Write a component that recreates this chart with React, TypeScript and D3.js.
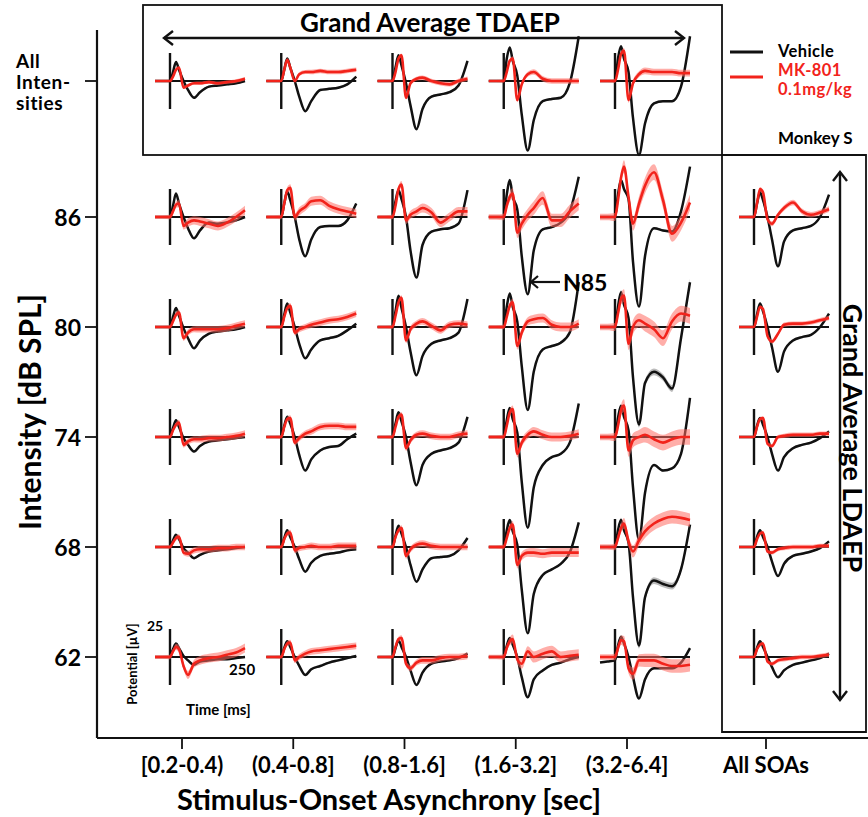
import * as d3 from "d3";

// sample times (ms) for every trace
const T = [-50, -25, 0, 10, 20, 30, 45, 60, 80, 100, 130, 160, 190, 220, 250];
// relative spread of the SEM band over time
const semProfile = [0.4, 0.4, 0.5, 0.6, 0.7, 0.8, 0.8, 0.9, 0.9, 1, 1, 1, 1, 1, 1];

const soaLabels = ["[0.2-0.4)", "(0.4-0.8]", "(0.8-1.6]", "(1.6-3.2]", "(3.2-6.4]", "All SOAs"];
const intensities = ["86", "80", "74", "68", "62"];

// Grand average over all intensities (top row), µV
const vehicleAllInt = [
  [0, 0, 0, 8, 17, 10, 0, -8, -15, -10, -5, -4, -3, -2, 0],
  [0, 0, 0, 10, 20, 12, 0, -14, -27, -18, -8, -7, -6, -3, 4],
  [0, 0, 0, 12, 23, 14, -2, -22, -43, -25, -14, -12, -10, -4, 18],
  [0, 0, 0, 20, 30, 18, 5, -30, -62, -35, -18, -16, -15, -2, 40],
  [0, 0, 0, 20, 31, 20, 8, -33, -66, -38, -20, -18, -18, -5, 40],
];
const mk801AllInt = [
  [0, 0, 0, 4, 10, 12, -6, -4, -2, -2, -1, -2, -1, 0, 2],
  [0, 0, 0, 10, 19, 12, 0, 6, 8, 8, 9, 8, 8, 9, 10],
  [0, 0, 0, 8, 20, 23, -15, -2, 2, 3, 0, -2, -3, 0, 2],
  [0, 0, 0, 8, 18, 20, -17, -3, 6, 8, 2, 0, 0, 0, 0],
  [0, 0, 0, 10, 24, 27, -17, -2, 6, 9, 8, 8, 8, 7, 7],
];
const semAllInt = [1.5, 2, 2, 2.5, 3];

const vehicle86 = [
  [0, 0, 0, 10, 21, 12, 0, -10, -19, -12, -5, -6, -5, -3, 0],
  [0, 0, 0, 12, 23, 15, 0, -20, -35, -20, -9, -8, -8, -3, 12],
  [0, 0, 0, 14, 24, 16, 0, -30, -54, -25, -13, -11, -10, -6, 24],
  [0, 0, 0, 20, 33, 18, 7, -35, -69, -30, -11, -9, -5, 5, 36],
  [0, 0, 0, 20, 33, 25, 16, -40, -80, -35, -10, -12, -13, 5, 45],
  [0, 0, 0, 12, 22, 15, 0, -20, -44, -22, -12, -10, -8, 0, 20],
];
const mk801_86 = [
  [0, 0, 0, 5, 11, 12, -8, -5, -3, -4, -6, -8, -5, 0, 6],
  [0, 0, 0, 12, 24, 26, 0, 5, 9, 14, 15, 10, 7, 5, 3],
  [0, 0, 0, 10, 25, 29, -3, 2, 5, 8, 4, -5, 0, 5, 5],
  [0, 0, 0, 10, 18, 21, -14, -6, 2, 8, 17, -3, -3, 5, 12],
  [0, 0, 0, 15, 35, 45, 18, -6, 12, 28, 40, 15, -15, -5, 13],
  [0, 0, 0, 12, 25, 22, -2, -6, 2, 8, 13, 5, 2, 4, 7],
];
const sem86 = [4, 4, 4, 6, 7, 2.5];

const vehicle80 = [
  [0, 0, 0, 9, 17, 10, -1, -10, -19, -12, -6, -4, -3, -2, 0],
  [0, 0, 0, 11, 21, 13, 0, -15, -28, -20, -12, -10, -8, -3, 3],
  [0, 0, 0, 14, 28, 17, 0, -22, -43, -26, -15, -12, -10, -5, 25],
  [0, 0, 0, 18, 30, 18, 5, -35, -74, -40, -20, -17, -14, -5, 40],
  [0, 0, 0, 18, 31, 20, 8, -45, -87, -50, -40, -45, -55, -10, 40],
  [0, 0, 0, 11, 21, 14, 0, -18, -40, -22, -12, -9, -7, 0, 12],
];
const mk801_80 = [
  [0, 0, 0, 5, 11, 13, -10, -5, -2, -2, -2, -2, -1, 1, 3],
  [0, 0, 0, 9, 17, 19, -5, -2, 0, 2, 4, 6, 7, 9, 12],
  [0, 0, 0, 10, 22, 26, -12, -2, 3, 5, 1, -3, 2, 3, 2],
  [0, 0, 0, 9, 19, 22, -17, -5, 5, 7, 8, 2, 0, 0, 3],
  [0, 0, 0, 12, 25, 28, -15, 0, 6, 3, -2, -10, 5, 12, 10],
  [0, 0, 0, 9, 18, 16, -8, -13, -6, 2, 3, 3, 4, 6, 8],
];
const sem80 = [3, 3, 3, 4, 7, 2];

const vehicle74 = [
  [0, 0, 0, 8, 15, 9, -1, -7, -13, -8, -4, -3, -2, -1, 0],
  [0, 0, 0, 10, 18, 12, 0, -16, -30, -20, -12, -9, -8, -2, 3],
  [0, 0, 0, 12, 22, 14, 0, -22, -43, -25, -15, -12, -10, -5, 18],
  [0, 0, 0, 15, 26, 16, 4, -40, -81, -45, -25, -18, -15, -5, 30],
  [0, 0, 0, 17, 28, 18, 6, -45, -92, -50, -25, -30, -28, -15, 35],
  [0, 0, 0, 10, 17, 11, 0, -15, -30, -18, -10, -7, -5, -1, 5],
];
const mk801_74 = [
  [0, 0, 0, 6, 11, 13, -7, -4, -2, -2, -1, -1, 0, 1, 3],
  [0, 0, 0, 9, 16, 17, -5, -1, 3, 5, 9, 10, 10, 9, 9],
  [0, 0, 0, 9, 18, 20, -10, -3, 2, 3, 1, 0, 0, 2, 3],
  [0, 0, 0, 10, 22, 25, -15, -5, 2, 5, 2, 0, 0, 1, 3],
  [0, 0, 0, 10, 24, 28, -12, -3, 0, 2, -2, -5, -2, 0, 0],
  [0, 0, 0, 9, 16, 17, -6, -8, 0, 1, 2, 2, 2, 3, 3],
];
const sem74 = [3, 3, 3, 4, 7, 2];

const vehicle68 = [
  [0, 0, 0, 6, 11, 7, -1, -5, -10, -7, -4, -3, -2, -1, 0],
  [0, 0, 0, 8, 15, 9, 0, -11, -22, -14, -8, -6, -5, -3, -2],
  [0, 0, 0, 10, 19, 12, 0, -16, -31, -20, -10, -9, -8, -3, 8],
  [0, 0, 0, 15, 24, 14, 2, -38, -77, -42, -25, -20, -15, -5, 22],
  [0, 0, 0, 15, 24, 15, 4, -45, -88, -45, -30, -33, -35, -20, 20],
  [0, 0, 0, 9, 15, 9, 0, -13, -26, -15, -8, -6, -4, -1, 5],
];
const mk801_68 = [
  [0, 0, 0, 4, 8, 9, -5, -6, -3, -2, -2, -1, -1, 0, 0],
  [0, 0, 0, 7, 12, 13, -3, -1, 0, 1, 0, 0, 1, 1, 1],
  [0, 0, 0, 9, 15, 17, -8, -2, 2, 3, 1, 0, 0, 0, 0],
  [0, 0, 0, 8, 17, 20, -16, -8, -5, -5, -6, -5, -5, -5, -5],
  [0, 0, 0, 8, 17, 21, 5, -4, 6, 14, 21, 25, 27, 26, 24],
  [0, 0, 0, 7, 12, 13, -4, -5, -2, -1, 0, 0, 0, 1, 1],
];
const sem68 = [3, 3, 3, 4, 6, 2];

const vehicle62 = [
  [0, 0, 0, 7, 12, 8, 1, -3, -7, -4, -3, -2, -2, -1, 0],
  [0, 0, 0, 8, 14, 9, 0, -8, -16, -11, -8, -5, -3, -1, 1],
  [0, 0, 0, 8, 15, 9, 0, -12, -25, -14, -6, -4, -3, -1, 3],
  [0, 0, 0, 10, 17, 11, 0, -18, -36, -20, -12, -7, -5, -2, 0],
  [-5, -4, -3, 10, 18, 12, 0, -18, -37, -20, -10, -10, -10, -5, 8],
  [0, 0, 0, 8, 14, 9, 0, -9, -18, -12, -7, -5, -3, -1, 3],
];
const mk801_62 = [
  [0, 0, 0, 5, 9, 7, -8, -16, -6, -3, -1, 0, 2, 4, 8],
  [0, 0, 0, 7, 12, 13, -3, 0, 3, 5, 6, 7, 8, 9, 10],
  [0, 0, 0, 9, 16, 17, -6, -10, -5, -3, -3, -1, 0, 0, 1],
  [0, 0, 0, 8, 14, 16, -2, -6, 5, 0, 3, 5, 0, 1, 2],
  [0, 0, 0, 8, 15, 14, -10, -15, -3, -3, -3, -6, -8, -8, -7],
  [0, 0, 0, 7, 11, 12, -4, -6, -3, -2, -1, 0, 0, 1, 2],
];
const sem62 = [4, 3, 3, 5, 6, 2];

const vehicleRows = [vehicle86, vehicle80, vehicle74, vehicle68, vehicle62];
const mk801Rows = [mk801_86, mk801_80, mk801_74, mk801_68, mk801_62];
const semRows = [sem86, sem80, sem74, sem68, sem62];

const allIntLines = ["All", "Inten-", "sities"];
const legendRed = ["MK-801", "0.1mg/kg"];

const RED = "#f2231b";
const FONT = "Lato, 'Open Sans', sans-serif";

// layout
const colX = d3.scalePoint<string>().domain(soaLabels.slice(0, 5)).range([182, 627]);
const allSoaX = 766;
const rowY = d3.scalePoint<string>().domain(intensities).range([217, 657]);
const allIntY = 81;

function Panel({ cx, base, vehicle, mk, sem, blackSem = 1 }: any) {
  const x = d3.scaleLinear().domain([-50, 250]).range([cx - 27, cx + 63]);
  const y = d3.scaleLinear().domain([-25, 25]).range([base + 28, base - 28]);
  const line = d3
    .line<number>()
    .x((_, i) => x(T[i]))
    .y((d) => y(d))
    .curve(d3.curveMonotoneX);
  const band = (s: number) =>
    d3
      .area<number>()
      .x((_, i) => x(T[i]))
      .y0((d, i) => y(d - s * semProfile[i]))
      .y1((d, i) => y(d + s * semProfile[i]))
      .curve(d3.curveMonotoneX);
  return (
    <g>
      <line x1={x(0)} x2={x(0)} y1={y(-25)} y2={y(25)} stroke="#111" strokeWidth={2.4} />
      <line x1={x(0)} x2={x(250)} y1={y(0)} y2={y(0)} stroke="#111" strokeWidth={2} />
      <path d={band(blackSem)(vehicle) || ""} fill="#777" opacity={0.5} />
      <path d={line(vehicle) || ""} fill="none" stroke="#111" strokeWidth={2.5} />
      <path d={band(sem)(mk) || ""} fill="#ff6b63" opacity={0.55} />
      <path d={line(mk) || ""} fill="none" stroke={RED} strokeWidth={2.6} />
    </g>
  );
}

function Arrow({ x1, y1, x2, y2 }: any) {
  // double headed arrow, horizontal or vertical
  const h = 7;
  const horiz = y1 === y2;
  const head = (px: number, py: number, dir: number) =>
    horiz
      ? `M${px + dir * 9},${py - h} L${px},${py} L${px + dir * 9},${py + h}`
      : `M${px - h},${py + dir * 9} L${px},${py} L${px + h},${py + dir * 9}`;
  return (
    <g stroke="#111" strokeWidth={2.4} fill="none">
      <line x1={x1} y1={y1} x2={x2} y2={y2} />
      <path d={head(x1, y1, 1)} />
      <path d={head(x2, y2, -1)} />
    </g>
  );
}

export default function App() {
  const W = 868;
  const H = 817;
  return (
    <svg
      width={W}
      height={H}
      style={{ position: "absolute", left: 0, top: 0, background: "#fff" }}
      fontFamily={FONT}
      fontWeight="bold"
    >
      {/* frames */}
      <rect x={143} y={5} width={579} height={150} fill="none" stroke="#111" strokeWidth={1.8} />
      <path d="M722,155 L866,155 L866,732 L722,732 Z" fill="none" stroke="#111" strokeWidth={1.8} />
      <line x1={97} x2={97} y1={30} y2={738} stroke="#111" strokeWidth={2.2} />
      <line x1={97} x2={868} y1={738} y2={738} stroke="#111" strokeWidth={2.2} />

      {/* y ticks */}
      {intensities.map((lab) => (
        <g key={lab}>
          <line x1={85} x2={97} y1={rowY(lab)} y2={rowY(lab)} stroke="#111" strokeWidth={1.8} />
          <text x={81} y={rowY(lab)} textAnchor="end" dominantBaseline="central" fontSize={23}>
            {lab}
          </text>
        </g>
      ))}
      <line x1={85} x2={97} y1={allIntY} y2={allIntY} stroke="#111" strokeWidth={1.8} />
      {allIntLines.map((s, i) => (
        <text
          key={s}
          x={16}
          y={allIntY + (i - 1) * 21}
          dominantBaseline="central"
          fontSize={19}
          letterSpacing={0.6}
        >
          {s}
        </text>
      ))}
      <text
        transform="translate(29,412) rotate(-90)"
        textAnchor="middle"
        dominantBaseline="central"
        fontSize={30}
      >
        Intensity [dB SPL]
      </text>

      {/* x ticks */}
      {soaLabels.map((lab, i) => {
        const px = i < 5 ? (colX(lab) as number) : allSoaX;
        return (
          <g key={lab}>
            <line x1={px} x2={px} y1={738} y2={749} stroke="#111" strokeWidth={1.8} />
            <text x={px} y={764} textAnchor="middle" dominantBaseline="central" fontSize={22}>
              {lab}
            </text>
          </g>
        );
      })}
      <text x={389} y={798} textAnchor="middle" dominantBaseline="central" fontSize={29}>
        Stimulus-Onset Asynchrony [sec]
      </text>

      {/* titles and arrows */}
      <text x={430} y={22} textAnchor="middle" dominantBaseline="central" fontSize={26}>
        Grand Average TDAEP
      </text>
      <Arrow x1={164} y1={38} x2={684} y2={38} />
      <Arrow x1={840} y1={172} x2={840} y2={700} />
      <text
        transform="translate(853,438) rotate(90)"
        textAnchor="middle"
        dominantBaseline="central"
        fontSize={27}
      >
        Grand Average LDAEP
      </text>

      {/* legend */}
      <line x1={730} x2={763} y1={52} y2={52} stroke="#111" strokeWidth={2.8} />
      <text x={778} y={51} dominantBaseline="central" fontSize={16.5} letterSpacing={0.4}>
        Vehicle
      </text>
      <line x1={730} x2={763} y1={77} y2={77} stroke={RED} strokeWidth={2.8} />
      {legendRed.map((s, i) => (
        <text
          key={s}
          x={778}
          y={70 + i * 19}
          dominantBaseline="central"
          fontSize={16.5}
          letterSpacing={0.4}
          fill={RED}
        >
          {s}
        </text>
      ))}
      <text x={778} y={137} dominantBaseline="central" fontSize={17}>Monkey S</text>

      {/* top row: all intensities */}
      {vehicleAllInt.map((v, c) => (
        <Panel
          key={"a" + c}
          cx={colX(soaLabels[c]) as number}
          base={allIntY}
          vehicle={v}
          mk={mk801AllInt[c]}
          sem={semAllInt[c]}
        />
      ))}

      {/* grid */}
      {intensities.map((lab, r) =>
        vehicleRows[r].map((v, c) => (
          <Panel
            key={lab + "-" + c}
            cx={c < 5 ? (colX(soaLabels[c]) as number) : allSoaX}
            base={rowY(lab) as number}
            vehicle={v}
            mk={mk801Rows[r][c]}
            sem={semRows[r][c]}
            blackSem={c === 4 && (r === 1 || r === 3) ? 3 : 1}
          />
        ))
      )}

      {/* N85 annotation */}
      <g stroke="#111" strokeWidth={2.2} fill="none">
        <line x1={531} x2={560} y1={282} y2={282} />
        <path d="M538,276 L531,282 L538,288" />
      </g>
      <text x={563} y={282} dominantBaseline="central" fontSize={23}>N85</text>

      {/* scale annotation */}
      <text x={147} y={625} dominantBaseline="central" fontSize={14}>25</text>
      <text x={229} y={669} dominantBaseline="central" fontSize={15}>250</text>
      <text
        transform="translate(132,664) rotate(-90)"
        textAnchor="middle"
        dominantBaseline="central"
        fontSize={13}
      >
        Potential [µV]
      </text>
      <text x={186} y={709} dominantBaseline="central" fontSize={15}>Time [ms]</text>
    </svg>
  );
}
